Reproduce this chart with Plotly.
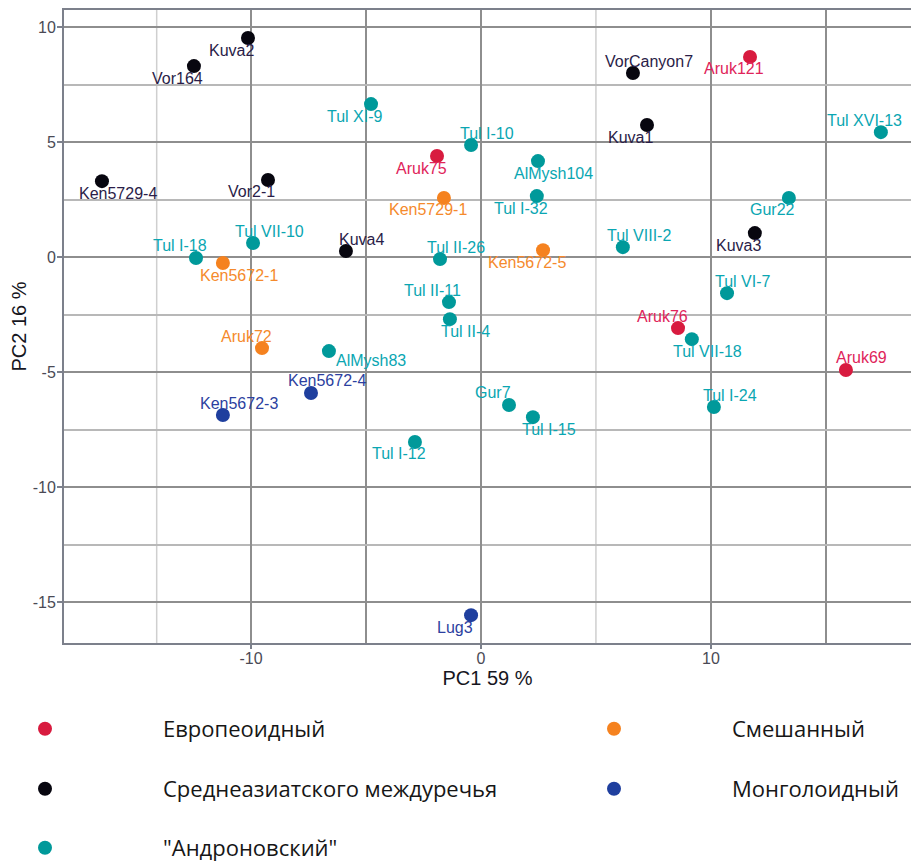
import plotly.graph_objects as go

# ---- data ----
names = ["Kuva2", "Vor164", "Ken5729-4", "Vor2-1", "Tul XI-9", "Aruk75", "Ken5729-1",
         "Tul I-10", "AlMysh104", "Tul I-32", "Ken5672-5", "Tul II-26", "Kuva4",
         "Tul VII-10", "Tul I-18", "Ken5672-1", "Tul II-11", "Tul II-4", "Aruk72",
         "AlMysh83", "Ken5672-4", "Ken5672-3", "Tul I-12", "Lug3", "Gur7", "Tul I-15",
         "VorCanyon7", "Aruk121", "Kuva1", "Tul XVI-13", "Gur22", "Kuva3", "Tul VIII-2",
         "Tul VI-7", "Aruk76", "Tul VII-18", "Aruk69", "Tul I-24"]
pc1 = [-10.13, -12.48, -16.48, -9.26, -4.78, -1.91, -1.61,
       -0.43, 2.48, 2.43, 2.70, -1.78, -5.87,
       -9.91, -12.39, -11.22, -1.39, -1.35, -9.52,
       -6.61, -7.39, -11.22, -2.87, -0.43, 1.22, 2.26,
       6.61, 11.70, 7.22, 17.39, 13.39, 11.91, 6.17,
       10.70, 8.57, 9.17, 15.87, 10.13]
pc2 = [9.52, 8.30, 3.30, 3.35, 6.65, 4.39, 2.57,
       4.87, 4.17, 2.65, 0.30, -0.09, 0.26,
       0.61, -0.04, -0.26, -1.96, -2.70, -3.96,
       -4.09, -5.91, -6.87, -8.04, -15.57, -6.43, -6.96,
       8.00, 8.70, 5.74, 5.43, 2.57, 1.04, 0.43,
       -1.57, -3.09, -3.57, -4.91, -6.52]
group = ["C", "C", "C", "C", "A", "E", "S",
         "A", "A", "A", "S", "A", "C",
         "A", "A", "S", "A", "A", "S",
         "A", "M", "M", "A", "M", "A", "A",
         "C", "E", "C", "A", "A", "C", "A",
         "A", "E", "A", "E", "A"]

group_order = ["E", "S", "C", "M", "A"]
group_names = {"E": "Европеоидный", "S": "Смешанный", "C": "Среднеазиатского междуречья",
               "M": "Монголоидный", "A": "\"Андроновский\""}

x_ticks = [-10, 0, 10]
x_ticktext = ["-10", "0", "10"]
y_ticks = [-15, -10, -5, 0, 5, 10]
y_ticktext = ["-15", "-10", "-5", "0", "5", "10"]

# ---- styles ----
marker_col = {"E": "#d81b3f", "S": "#f5821f", "C": "#07060f", "M": "#1f3f9e", "A": "#00999a"}
label_col = {"E": "#e0245a", "S": "#f58a2c", "C": "#2a1d48", "M": "#2c3fa0", "A": "#0aa6b2"}
# label placement (style): bl, br, tl, tr, r
place = ["bl", "bl", "br", "bl", "bl", "bl", "bl",
         "tr", "br", "bl", "bl", "tr", "tr",
         "tr", "tl", "br", "tl", "br", "tl",
         "r", "tr", "tr", "bl", "bl", "tl", "br",
         "tr", "bl", "bl", "tl", "bl", "bl", "tr",
         "tr", "tl", "br", "tr", "tr"]
shift = {"bl": (-16, -12), "br": (16, -12), "tl": (-16, 12), "tr": (16, 12), "r": (42, -9)}

fig = go.Figure()

W, H = 847.0, 633.0
def px_x(p):
    return (p - 64) / W
def px_y(p):
    return (643 - p) / H
leg_pos = {"E": (45, 729), "S": (614, 729), "C": (45, 789), "M": (614, 789), "A": (45, 848)}
leg_ids = {"E": "legend", "S": "legend2", "C": "legend3", "M": "legend4", "A": "legend5"}
item_w = 226

for g in group_order:
    idx = [i for i, gg in enumerate(group) if gg == g]
    fig.add_trace(go.Scatter(
        x=[pc1[i] for i in idx], y=[pc2[i] for i in idx],
        mode="markers", name=group_names[g],
        marker=dict(size=14, color=marker_col[g]),
        legend=leg_ids[g], hoverinfo="text", text=[names[i] for i in idx],
    ))

for i, n in enumerate(names):
    dx, dy = shift[place[i]]
    fig.add_annotation(x=pc1[i], y=pc2[i], text=n, showarrow=False,
                       xshift=dx, yshift=dy, xanchor="center", yanchor="middle",
                       font=dict(family="Liberation Sans, Arial", size=16, color=label_col[group[i]]))

legend_common = dict(orientation="v", xanchor="left", yanchor="middle",
                     bgcolor="rgba(0,0,0,0)", itemwidth=item_w,
                     font=dict(family="Open Sans", size=22, color="#161616"))
layout_legs = {}
for g in group_order:
    lx, ly = leg_pos[g]
    layout_legs[leg_ids[g]] = dict(x=px_x(lx - item_w / 2 - 5), y=px_y(ly), **legend_common)

for xv in [-14.1, 5]:
    fig.add_shape(type="line", xref="x", yref="paper", x0=xv, x1=xv, y0=0, y1=1,
                  line=dict(color="#cfcfcf", width=1.5), layer="below")

fig.update_layout(
    width=911, height=863,
    margin=dict(l=64, r=0, t=10, b=220, autoexpand=False),
    paper_bgcolor="white", plot_bgcolor="white",
    showlegend=True,
    **layout_legs,
    xaxis=dict(range=[-18.13, 18.7], tickvals=x_ticks, ticktext=x_ticktext, automargin=False,
               showgrid=True, gridcolor="#8e8e8e", gridwidth=2,
               minor=dict(tickmode="array", tickvals=[-5, 15], showgrid=True,
                          gridcolor="#8e8e8e", gridwidth=2, ticks=""),
               showline=True, linecolor="#7c808b", linewidth=2, mirror=True,
               ticks="outside", ticklen=4, tickwidth=2, tickcolor="#7c808b",
               ticklabelstandoff=-4,
               zeroline=False,
               tickfont=dict(family="Liberation Sans, Arial", size=16, color="#4a4a55"),
               title=dict(text="PC1 59 %", standoff=2,
                          font=dict(family="Liberation Sans, Arial", size=20, color="#16161e"))),
    yaxis=dict(range=[-16.78, 10.74], tickvals=y_ticks, ticktext=y_ticktext, automargin=False,
               showgrid=True, gridcolor="#8e8e8e", gridwidth=2,
               minor=dict(dtick=2.5, showgrid=True, gridcolor="#b8b8b8", gridwidth=1.5, ticks=""),
               showline=True, linecolor="#7c808b", linewidth=2,
               ticks="outside", ticklen=5, tickwidth=2, tickcolor="#7c808b",
               ticklabelstandoff=-2,
               zeroline=False,
               tickfont=dict(family="Liberation Sans, Arial", size=16, color="#4a4a55"),
               title=dict(text="PC2 16 %", standoff=1,
                          font=dict(family="Liberation Sans, Arial", size=20, color="#16161e"))),
)

fig.write_html("out.html", config={"displayModeBar": False},
               post_script="document.body.style.margin='0px';")
